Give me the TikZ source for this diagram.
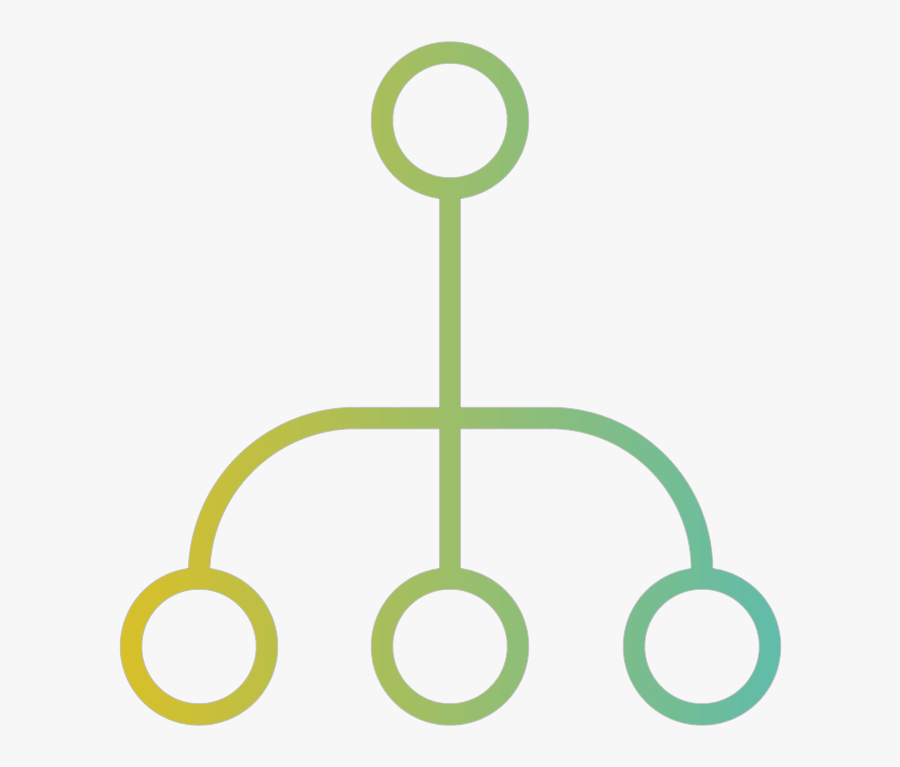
\documentclass[tikz,border=0pt]{standalone}
\definecolor{bgc}{RGB}{247,247,247}
\definecolor{gleft}{RGB}{218,192,38}
\definecolor{gright}{RGB}{94,188,172}
\tikzset{
  ring/.style={circle, minimum size=136pt, inner sep=0pt, outer sep=0pt},
  stroke/.style={line width=20.5pt},
  halo/.style={draw=black!60, draw opacity=0.35, line width=22.5pt},
}
\newcommand{\drawicon}[1]{%
  \node[ring,draw,#1] (top) at (450,120.5) {};
  \node[ring,draw,#1] (left) at (199,646.5) {};
  \node[ring,draw,#1] (mid) at (450,646.5) {};
  \node[ring,draw,#1] (right) at (702,646.5) {};
  \draw[#1] (top.south) -- (mid.north);
  \draw[#1] (left.north) -- (199,575) arc[start angle=180,end angle=270,radius=157]
     -- (550,418) arc[start angle=270,end angle=360,radius=152] -- (right.north);
}
\begin{document}
\begin{tikzpicture}[x=1pt,y=-1pt]
\fill[bgc] (0,0) rectangle (900,767);
\useasboundingbox (0,0) rectangle (900,767);
\drawicon{halo}
\foreach \i in {0,...,67} {
  \pgfmathsetmacro{\xa}{110+10*\i}
  \pgfmathsetmacro{\pc}{100-100*(\i+0.5)/68}
  \colorlet{strip}{gleft!\pc!gright}
  \begin{scope}
    \clip (\xa,0) rectangle ({\xa+12},767);
    \drawicon{stroke,draw=strip}
  \end{scope}
}
\end{tikzpicture}
\end{document}
